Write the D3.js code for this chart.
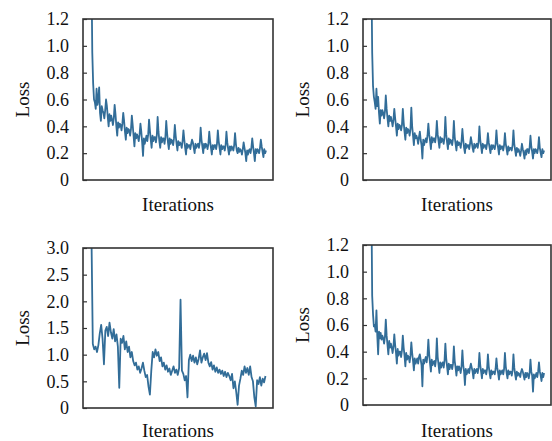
<!DOCTYPE html>
<html>
<head lang="en">
    <meta charset="UTF-8">
    <title></title>
    <script src="https://cdn.jsdelivr.net/npm/d3@7/dist/d3.min.js"></script>
    <style>
        body{margin:0;background:#fff;}
        text{font-family:"Liberation Serif","Times New Roman",serif;fill:#111;}
    </style>
</head>
<body>
<div id="tu"></div>
</body>
</html>
<script>
    var lossA=[1.6,0.95,0.72,0.6,
        0.58,0.53,0.68,0.56,0.6,0.69,0.5,0.44,0.55,0.52,
        0.5,0.46,0.52,0.6,0.55,0.47,0.4,0.49,0.44,0.48,
        0.45,0.41,0.46,0.56,0.49,0.4,0.33,0.43,0.39,0.42,
        0.41,0.37,0.42,0.5,0.44,0.36,0.3,0.39,0.35,0.38,
        0.37,0.33,0.38,0.48,0.41,0.33,0.25,0.35,0.31,0.34,
        0.32,0.29,0.34,0.42,0.36,0.28,0.18,0.31,0.27,0.3,
        0.33,0.29,0.34,0.45,0.37,0.3,0.24,0.33,0.29,0.32,
        0.32,0.28,0.33,0.47,0.36,0.29,0.24,0.32,0.28,0.31,
        0.31,0.27,0.32,0.44,0.35,0.28,0.23,0.31,0.27,0.3,
        0.29,0.26,0.31,0.41,0.33,0.27,0.22,0.29,0.26,0.28,
        0.27,0.24,0.29,0.37,0.3,0.24,0.19,0.27,0.24,0.26,
        0.26,0.23,0.27,0.3,0.28,0.24,0.2,0.27,0.24,0.26,
        0.27,0.24,0.28,0.39,0.3,0.25,0.2,0.27,0.24,0.27,
        0.26,0.23,0.27,0.36,0.29,0.24,0.19,0.26,0.23,0.26,
        0.26,0.23,0.27,0.37,0.29,0.24,0.19,0.26,0.23,0.25,
        0.25,0.22,0.26,0.36,0.28,0.23,0.19,0.25,0.22,0.25,
        0.24,0.22,0.26,0.35,0.27,0.22,0.2,0.24,0.21,0.23,
        0.22,0.19,0.23,0.28,0.24,0.2,0.14,0.22,0.19,0.22,
        0.23,0.2,0.24,0.31,0.25,0.2,0.14,0.23,0.2,0.23,
        0.22,0.2,0.24,0.3,0.25,0.21,0.17,0.23,0.2,0.22];
    var lossB=[1.6,0.95,0.7,0.62,
        0.58,0.53,0.68,0.55,0.62,0.5,0.42,0.52,0.48,0.52,
        0.5,0.46,0.51,0.63,0.53,0.46,0.4,0.48,0.44,0.47,
        0.44,0.4,0.45,0.53,0.46,0.4,0.33,0.42,0.38,0.41,
        0.4,0.37,0.41,0.53,0.43,0.36,0.3,0.39,0.35,0.38,
        0.37,0.33,0.38,0.54,0.4,0.33,0.26,0.35,0.31,0.33,
        0.31,0.27,0.32,0.36,0.3,0.26,0.16,0.3,0.26,0.29,
        0.31,0.28,0.33,0.42,0.34,0.29,0.23,0.32,0.28,0.31,
        0.31,0.28,0.33,0.44,0.34,0.29,0.24,0.32,0.28,0.31,
        0.3,0.27,0.32,0.47,0.34,0.28,0.23,0.31,0.27,0.3,
        0.29,0.26,0.31,0.44,0.32,0.27,0.22,0.29,0.26,0.28,
        0.27,0.24,0.29,0.38,0.3,0.24,0.2,0.27,0.24,0.26,
        0.26,0.23,0.27,0.32,0.28,0.24,0.21,0.27,0.24,0.26,
        0.27,0.24,0.28,0.4,0.3,0.25,0.2,0.27,0.24,0.26,
        0.26,0.23,0.27,0.35,0.28,0.24,0.2,0.26,0.23,0.26,
        0.25,0.23,0.27,0.37,0.28,0.24,0.19,0.26,0.23,0.25,
        0.25,0.22,0.26,0.35,0.27,0.23,0.19,0.25,0.22,0.24,
        0.24,0.22,0.26,0.37,0.27,0.22,0.18,0.24,0.21,0.23,
        0.21,0.18,0.22,0.27,0.23,0.2,0.16,0.22,0.19,0.23,
        0.23,0.2,0.24,0.33,0.25,0.21,0.16,0.23,0.2,0.23,
        0.22,0.2,0.24,0.32,0.24,0.2,0.17,0.23,0.2,0.22];
    var lossC=[3.3,1.2,1.1,1.15,1.05,1.18,1.4,1.56,1.3,0.82,
        1.45,1.52,1.35,1.6,1.42,1.3,1.48,1.25,1.38,1.15,
        0.38,1.3,1.22,1.35,1.1,1.25,1.05,1.15,0.95,1.05,
        0.88,0.8,0.85,0.72,0.78,0.66,0.74,0.85,0.7,0.58,
        0.62,0.4,0.25,0.7,1.05,0.95,1.1,0.98,1.05,0.88,
        0.95,0.78,0.85,0.72,0.8,0.68,0.74,0.62,0.7,0.78,
        0.66,0.72,0.62,0.75,2.03,0.7,0.64,0.52,0.6,0.2,
        0.9,1.0,0.88,0.98,0.85,0.95,0.82,0.92,1.08,0.85,
        0.95,1.02,0.9,1.03,0.85,0.78,0.86,0.72,0.8,0.68,
        0.76,0.66,0.72,0.64,0.7,0.6,0.68,0.58,0.66,0.6,
        0.52,0.64,0.37,0.5,0.3,0.06,0.42,0.55,0.7,0.62,
        0.78,0.66,0.75,0.62,0.78,0.58,0.5,0.2,0.03,0.52,
        0.45,0.58,0.42,0.55,0.48,0.6];
    var lossD=[1.6,0.82,0.68,0.59,
        0.6,0.55,0.71,0.52,0.38,0.55,0.5,0.54,0.49,0.52,
        0.5,0.46,0.51,0.64,0.52,0.45,0.38,0.48,0.43,0.46,
        0.43,0.39,0.44,0.53,0.45,0.39,0.31,0.42,0.37,0.4,
        0.4,0.36,0.41,0.52,0.43,0.37,0.29,0.39,0.34,0.37,
        0.36,0.32,0.37,0.47,0.39,0.33,0.26,0.35,0.31,0.33,
        0.35,0.31,0.36,0.38,0.34,0.3,0.14,0.34,0.31,0.34,
        0.36,0.32,0.37,0.49,0.38,0.31,0.25,0.34,0.3,0.32,
        0.33,0.29,0.34,0.5,0.36,0.3,0.24,0.32,0.28,0.31,
        0.32,0.28,0.33,0.46,0.35,0.29,0.23,0.31,0.27,0.3,
        0.3,0.27,0.31,0.44,0.33,0.28,0.22,0.29,0.26,0.29,
        0.27,0.24,0.29,0.41,0.3,0.25,0.15,0.27,0.23,0.25,
        0.27,0.24,0.28,0.31,0.28,0.25,0.2,0.27,0.24,0.26,
        0.27,0.24,0.28,0.39,0.3,0.25,0.2,0.27,0.24,0.26,
        0.26,0.23,0.27,0.38,0.29,0.24,0.2,0.26,0.23,0.25,
        0.25,0.23,0.27,0.35,0.28,0.24,0.19,0.26,0.23,0.25,
        0.26,0.23,0.27,0.39,0.29,0.24,0.2,0.26,0.23,0.25,
        0.25,0.22,0.26,0.38,0.28,0.23,0.19,0.25,0.22,0.24,
        0.23,0.21,0.25,0.27,0.25,0.22,0.19,0.24,0.21,0.24,
        0.23,0.2,0.24,0.34,0.25,0.22,0.1,0.23,0.2,0.22,
        0.24,0.21,0.25,0.32,0.25,0.22,0.18,0.24,0.21,0.24];
    var ticksSmall=[0,0.2,0.4,0.6,0.8,1.0,1.2];
    var ticksBig=[0,0.5,1.0,1.5,2.0,2.5,3.0];

    var panels=[
        {data:lossA,ticks:ticksSmall,max:1.2,x:83,y:19,w:190,h:161,ty:31},
        {data:lossB,ticks:ticksSmall,max:1.2,x:363,y:19,w:188,h:161,ty:31},
        {data:lossC,ticks:ticksBig,max:3.0,x:83,y:248,w:190,h:160,ty:29},
        {data:lossD,ticks:ticksSmall,max:1.2,x:363,y:245,w:188,h:160,ty:32}
    ];

    var svg=d3.select('#tu')
            .append('svg')
            .attr('width',552)
            .attr('height',441);

    function drawPanel(p,i){
        var n=p.data.length;
        var g=svg.append('g')
                .attr('transform','translate('+p.x+','+p.y+')');
        var xs=d3.scaleLinear()
                .domain([-n*0.048,n*1.035])
                .range([0,p.w]);
        var ys=d3.scaleLinear()
                .domain([0,p.max])
                .range([p.h,0]);

        g.append('clipPath')
                .attr('id','clip'+i)
                .append('rect')
                .attr('width',p.w)
                .attr('height',p.h);

        var line=d3.line()
                .x(function(d,j){return xs(j)})
                .y(function(d){return ys(d)});
        g.append('path')
                .datum(p.data)
                .attr('clip-path','url(#clip'+i+')')
                .attr('d',line)
                .attr('fill','none')
                .attr('stroke','#326d98')
                .attr('stroke-width',1.8)
                .attr('stroke-linejoin','round');

        var ax=d3.axisLeft(ys)
                .tickValues(p.ticks)
                .tickSizeInner(-4)
                .tickSizeOuter(0)
                .tickPadding(14)
                .tickFormat(function(d){return d===0?'0':d3.format('.1f')(d)});
        var ag=g.append('g').call(ax);
        ag.select('.domain').remove();
        ag.selectAll('line').attr('stroke','#333').attr('stroke-width',1.2);
        ag.selectAll('text')
                .style('font-size','18px')
                .style('font-family','"Liberation Serif",serif')
                .style('fill','#111');

        g.append('rect')
                .attr('width',p.w)
                .attr('height',p.h)
                .attr('fill','none')
                .attr('stroke','#333')
                .attr('stroke-width',1.6);

        g.append('text')
                .attr('x',p.w/2)
                .attr('y',p.h+p.ty)
                .attr('text-anchor','middle')
                .attr('font-size','19px')
                .text('Iterations');
        g.append('text')
                .attr('transform','translate(-61,'+(p.h/2)+') rotate(-90)')
                .attr('dy','0.35em')
                .attr('text-anchor','middle')
                .attr('font-size','19px')
                .text('Loss');
    }
    panels.forEach(drawPanel);
</script>
